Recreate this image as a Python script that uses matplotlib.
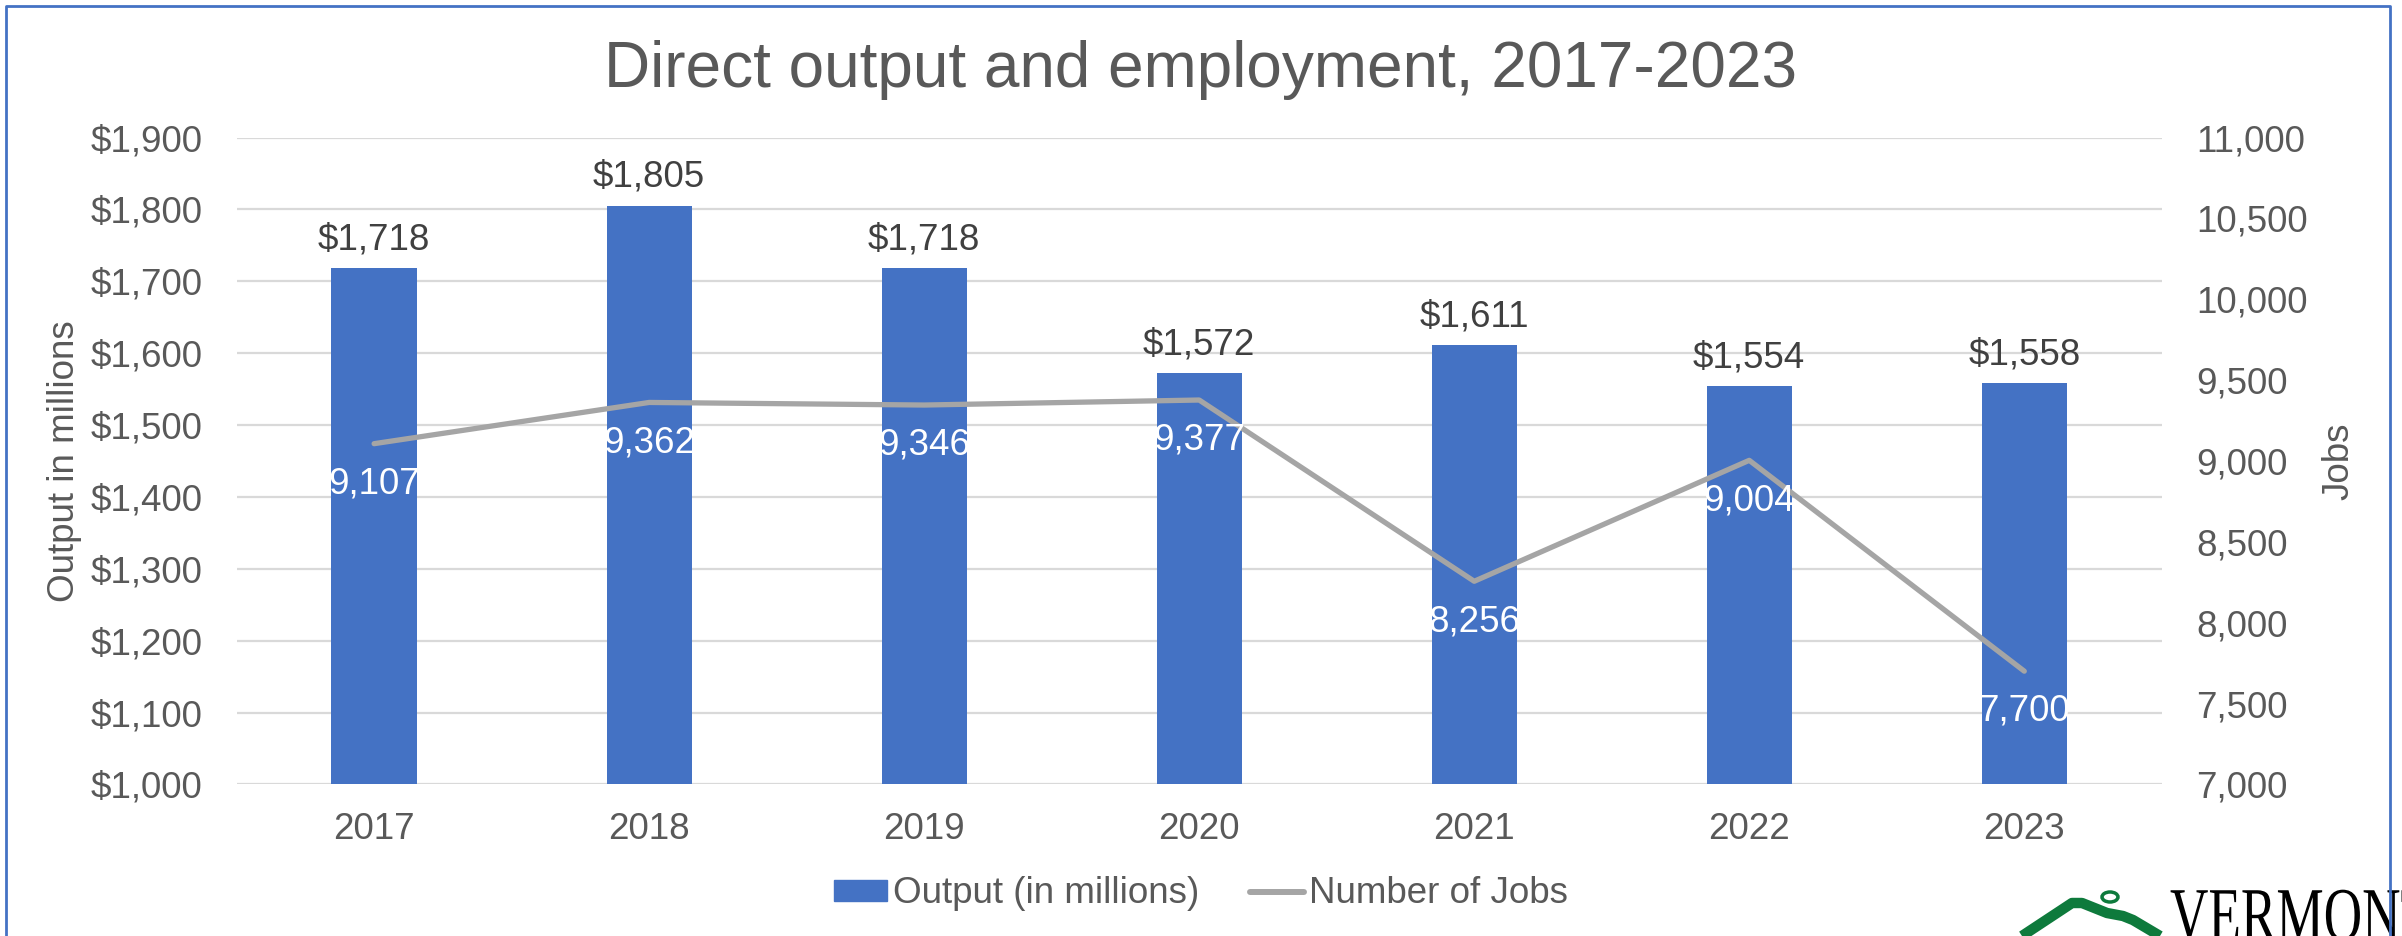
import matplotlib
matplotlib.use('Agg')
import matplotlib.pyplot as plt
from matplotlib.patches import Patch, PathPatch, Ellipse
from matplotlib.lines import Line2D
from matplotlib.textpath import TextPath
from matplotlib.font_manager import FontProperties
from matplotlib.transforms import Affine2D, IdentityTransform

years = ['2017', '2018', '2019', '2020', '2021', '2022', '2023']
output_millions = [1718, 1805, 1718, 1572, 1611, 1554, 1558]
jobs = [9107, 9362, 9346, 9377, 8256, 9004, 7700]

plt.rcParams['font.family'] = ['Liberation Sans', 'DejaVu Sans']
TXT = '#595959'
BLUE = '#4472C4'
GREY = '#A5A5A5'
W, H = 2402, 936
FS = 26.5

fig = plt.figure(figsize=(W / 100, H / 100), dpi=100)
ax = fig.add_axes([0.0985, 0.162, 0.8015, 0.691])
x = list(range(len(years)))

ax.bar(x, output_millions, width=0.31, color=BLUE, zorder=2)
ax.set_xlim(-0.5, len(years) - 0.5)
ax.set_ylim(1000, 1900)
ax.set_yticks(range(1000, 1901, 100))
ax.yaxis.set_major_formatter(lambda v, p: f'${v:,.0f}')
ax.set_xticks(x)
ax.set_xticklabels(years)
ax.grid(axis='y', color='#D9D9D9', lw=1.6, zorder=0)
ax.set_axisbelow(True)
for s in ax.spines.values():
    s.set_visible(False)
ax.tick_params(axis='y', length=0, labelsize=FS, labelcolor=TXT, pad=24.5)
ax.tick_params(axis='x', length=0, labelsize=FS, labelcolor=TXT, pad=20)

for xi, v in zip(x, output_millions):
    ax.annotate(f'${v:,}', (xi, v), xytext=(0, 8), textcoords='offset points',
                ha='center', va='bottom', fontsize=FS, color='#404040')

ax2 = ax.twinx()
ax2.plot(x, jobs, color=GREY, lw=3.8, solid_capstyle='round', zorder=3)
ax2.set_ylim(7000, 11000)
ax2.set_yticks(range(7000, 11001, 500))
ax2.yaxis.set_major_formatter(lambda v, p: f'{v:,.0f}')
for s in ax2.spines.values():
    s.set_visible(False)
ax2.tick_params(axis='y', length=0, labelsize=FS, labelcolor=TXT, pad=25)

for xi, v in zip(x, jobs):
    ax2.annotate(f'{v:,}', (xi, v), xytext=(0, -29), textcoords='offset points',
                 ha='center', va='center', fontsize=FS, color='white', zorder=4)

fig.text(0.5, 1 - 87 / H, 'Direct output and employment, 2017-2023',
         ha='center', va='baseline', fontsize=46, color=TXT)
fig.text(64 / W, 0.5075, 'Output in millions', rotation=90,
         ha='center', va='center', fontsize=FS, color=TXT)
fig.text(2339 / W, 0.5075, 'Jobs', rotation=90,
         ha='center', va='center', fontsize=FS, color=TXT)

handles = [Patch(color=BLUE),
           Line2D([], [], color=GREY, lw=4.3, solid_capstyle='round')]
fig.legend(handles, ['Output (in millions)', 'Number of Jobs'], loc='center',
           bbox_to_anchor=(0.5, 0.045), ncol=2, frameon=False, fontsize=FS,
           handlelength=1.45, handleheight=0.48, handletextpad=0.15,
           columnspacing=1.4, labelcolor=TXT, borderpad=0)

# chart border
fig.add_artist(Line2D([6 / W, 6 / W, 2390 / W, 2390 / W], [0, 1 - 6 / H, 1 - 6 / H, 0],
                      transform=fig.transFigure, color=BLUE, lw=2))

# logo in the corner (partly cut off)
GREEN = '#0E7A3C'
swoosh_x = [2022, 2072, 2082, 2107, 2123, 2133, 2160]
swoosh_y = [0, 33, 33, 23, 20, 16, 0]
fig.add_artist(Line2D(swoosh_x, swoosh_y, transform=IdentityTransform(),
                      color=GREEN, lw=7.5, solid_capstyle='butt'))
fig.add_artist(Ellipse((2110, 39), 16, 10, transform=IdentityTransform(),
                       fill=False, edgecolor=GREEN, lw=2.5))
tp = TextPath((0, 0), 'VERMONT', size=76, prop=FontProperties(family='Liberation Serif'))
tp = Affine2D().scale(0.70, 1.0).translate(2170, -4).transform_path(tp)
fig.add_artist(PathPatch(tp, transform=IdentityTransform(), color='black', lw=0))

fig.savefig('out.png', dpi=100)
